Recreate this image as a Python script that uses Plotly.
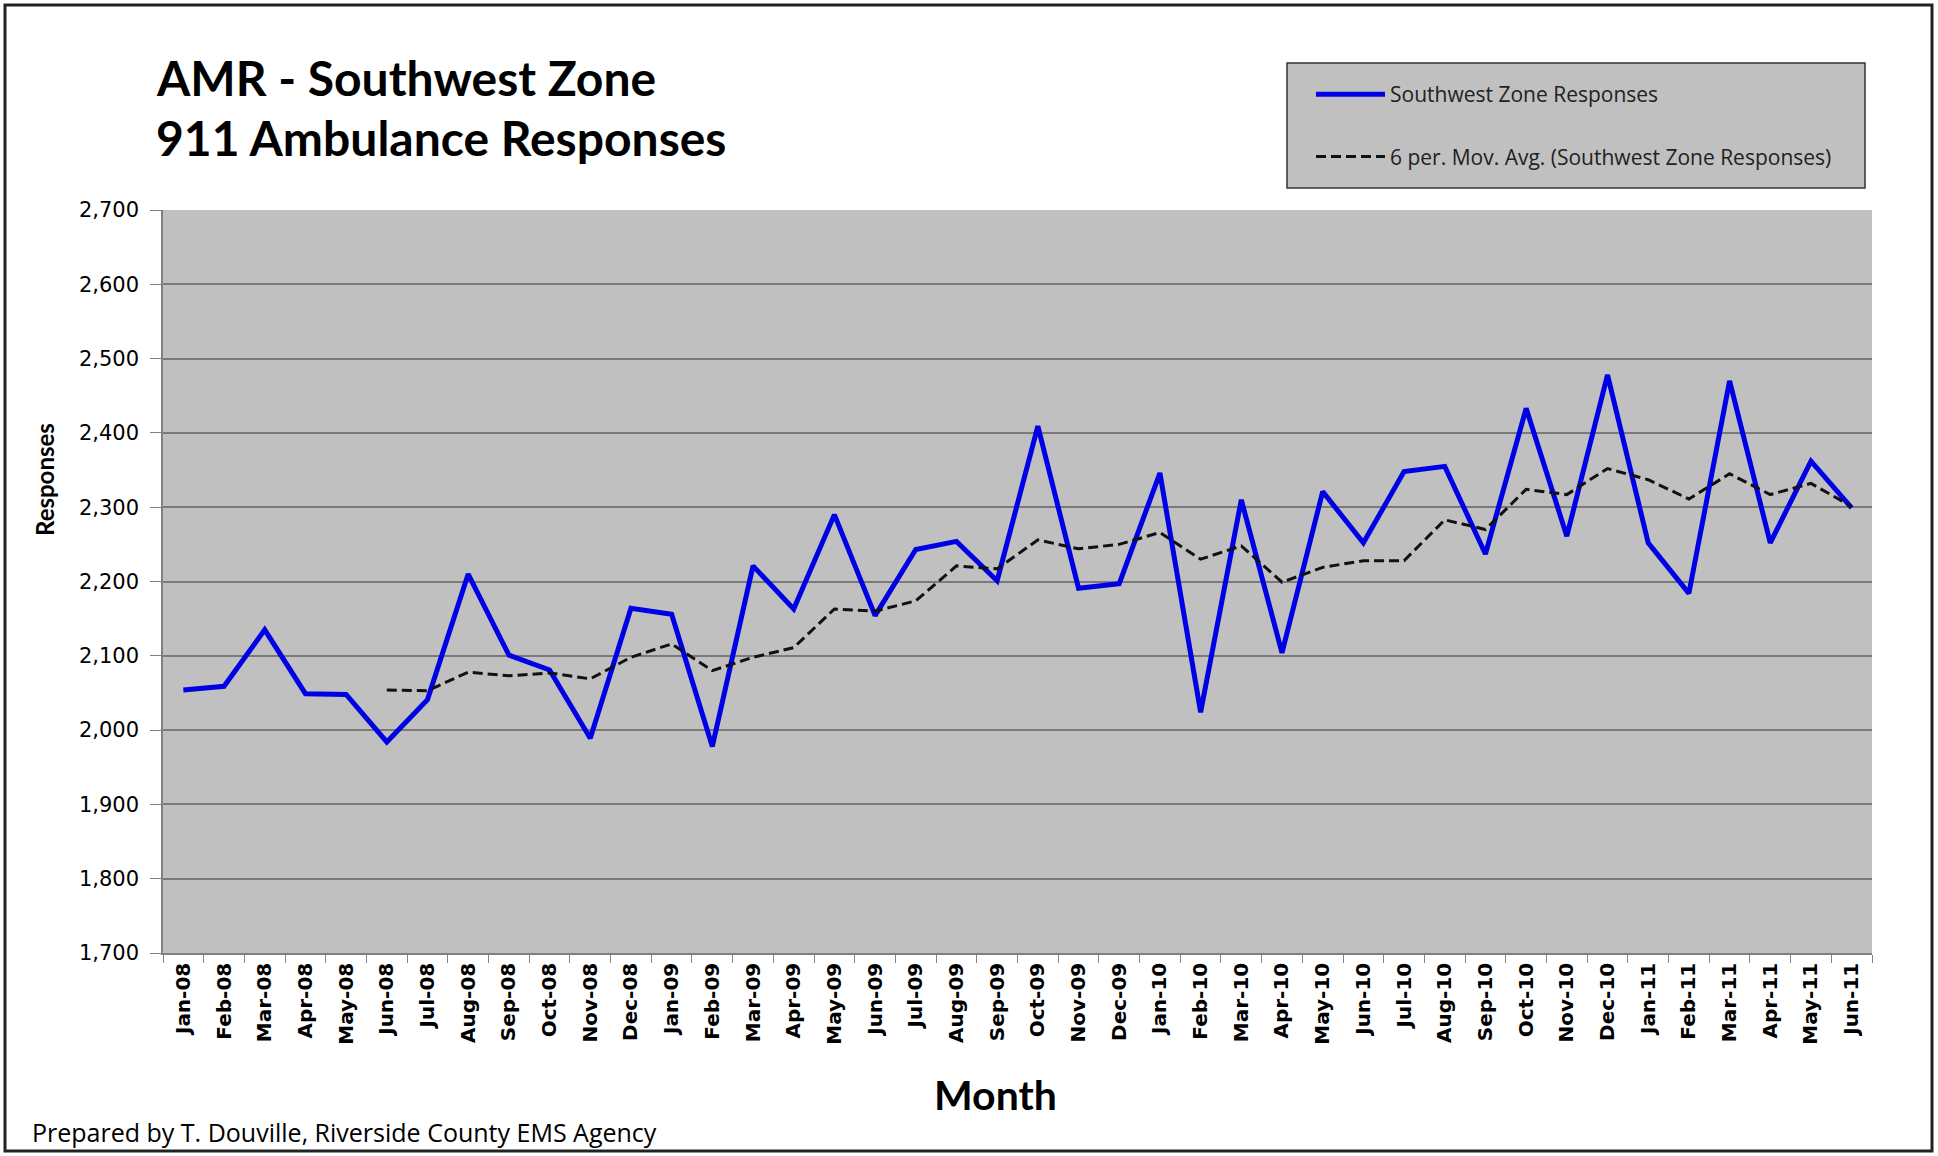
import plotly.graph_objects as go

months = ["Jan-08", "Feb-08", "Mar-08", "Apr-08", "May-08", "Jun-08", "Jul-08", "Aug-08",
          "Sep-08", "Oct-08", "Nov-08", "Dec-08", "Jan-09", "Feb-09", "Mar-09", "Apr-09",
          "May-09", "Jun-09", "Jul-09", "Aug-09", "Sep-09", "Oct-09", "Nov-09", "Dec-09",
          "Jan-10", "Feb-10", "Mar-10", "Apr-10", "May-10", "Jun-10", "Jul-10", "Aug-10",
          "Sep-10", "Oct-10", "Nov-10", "Dec-10", "Jan-11", "Feb-11", "Mar-11", "Apr-11",
          "May-11", "Jun-11"]

responses = [2054, 2059, 2135, 2049, 2048, 1984, 2041, 2210,
             2101, 2081, 1989, 2164, 2156, 1978, 2221, 2163,
             2290, 2154, 2243, 2254, 2201, 2409, 2191, 2197,
             2346, 2024, 2310, 2104, 2321, 2252, 2348, 2355,
             2237, 2433, 2261, 2478, 2252, 2184, 2470, 2252,
             2362, 2299]

moving_avg = [None, None, None, None, None, 2054, 2053, 2078,
              2073, 2077, 2069, 2098, 2116, 2080, 2098, 2111,
              2163, 2160, 2174, 2221, 2217, 2256, 2244, 2250,
              2266, 2230, 2248, 2199, 2219, 2228, 2228, 2283,
              2270, 2324, 2317, 2352, 2337, 2311, 2345, 2317,
              2332, 2301]

y_ticks = [1700, 1800, 1900, 2000, 2100, 2200, 2300, 2400, 2500, 2600, 2700]

W, H = 1938, 1156
L, R, T, B = 163, 66, 210, 203
PW, PH = W - L - R, H - T - B


def px(x):
    return (x - L) / PW


def py(y):
    return (H - B - y) / PH


fig = go.Figure()
fig.add_trace(go.Scatter(
    x=months, y=responses, mode="lines", name="Southwest Zone Responses",
    line=dict(color="#0000e6", width=5), legendgroup="a"))
fig.add_trace(go.Scatter(
    x=months, y=moving_avg, mode="lines",
    name="6 per. Mov. Avg. (Southwest Zone Responses)",
    line=dict(color="#111111", width=3, dash="10px,5px"), legendgroup="b"))

fig.update_layout(
    width=W, height=H,
    margin=dict(l=L, r=R, t=T, b=B, autoexpand=False),
    paper_bgcolor="white", plot_bgcolor="#c0c0c0",
    showlegend=True,
    legend=dict(x=px(1311), y=py(74), xanchor="left", yanchor="top",
                bgcolor="rgba(0,0,0,0)", borderwidth=0,
                font=dict(family="Open Sans", size=21, color="#222222"),
                itemwidth=69, tracegroupgap=32),
    xaxis=dict(type="category", showgrid=False, showline=True, linecolor="#808080",
               linewidth=1.5, ticks="outside", tickson="boundaries", ticklen=8,
               tickcolor="#808080", tickangle=-90,
               tickfont=dict(family="DejaVu Sans", size=20, color="black", weight="bold"),
               range=[-0.5, len(months) - 0.5]),
    yaxis=dict(range=[1700, 2700], tickvals=y_ticks, tickformat=",", showgrid=True,
               gridcolor="#7a7a7a", gridwidth=1.5, showline=True, linecolor="#808080",
               linewidth=1.5, ticks="outside", ticklen=11, tickcolor="#808080",
               ticklabelstandoff=7,
               tickfont=dict(family="DejaVu Sans", size=21, color="black"), zeroline=False),
    shapes=[
        dict(type="rect", xref="paper", yref="paper", x0=px(1287), x1=px(1865),
             y0=py(188), y1=py(63), fillcolor="#c0c0c0",
             line=dict(color="#333333", width=1.5), layer="below"),
        dict(type="rect", xref="paper", yref="paper", x0=px(5), x1=px(1932),
             y0=py(1151), y1=py(5), fillcolor="rgba(0,0,0,0)",
             line=dict(color="#222222", width=3)),
    ],
    annotations=[
        dict(text="<b>AMR - Southwest Zone</b>", xref="paper", yref="paper",
             x=px(154), y=py(78), xanchor="left", yanchor="middle", showarrow=False,
             font=dict(family="Lato", size=48, color="black")),
        dict(text="<b>911 Ambulance Responses</b>", xref="paper", yref="paper",
             x=px(154), y=py(138), xanchor="left", yanchor="middle", showarrow=False,
             font=dict(family="Lato", size=48, color="black")),
        dict(text="<b>Responses</b>", xref="paper", yref="paper",
             x=px(44), y=py(480), xanchor="center", yanchor="middle", showarrow=False,
             textangle=-90, font=dict(family="Lato", size=24, color="black")),
        dict(text="<b>Month</b>", xref="paper", yref="paper",
             x=px(995), y=py(1094), xanchor="center", yanchor="middle", showarrow=False,
             font=dict(family="Lato", size=41, color="black")),
        dict(text="Prepared by T. Douville, Riverside County EMS Agency", xref="paper",
             yref="paper", x=px(30), y=py(1132), xanchor="left", yanchor="middle",
             showarrow=False, font=dict(family="Open Sans", size=25, color="black")),
    ],
)

fig.write_html("out.html", config={"displayModeBar": False},
               post_script="document.body.style.margin='0px';")
